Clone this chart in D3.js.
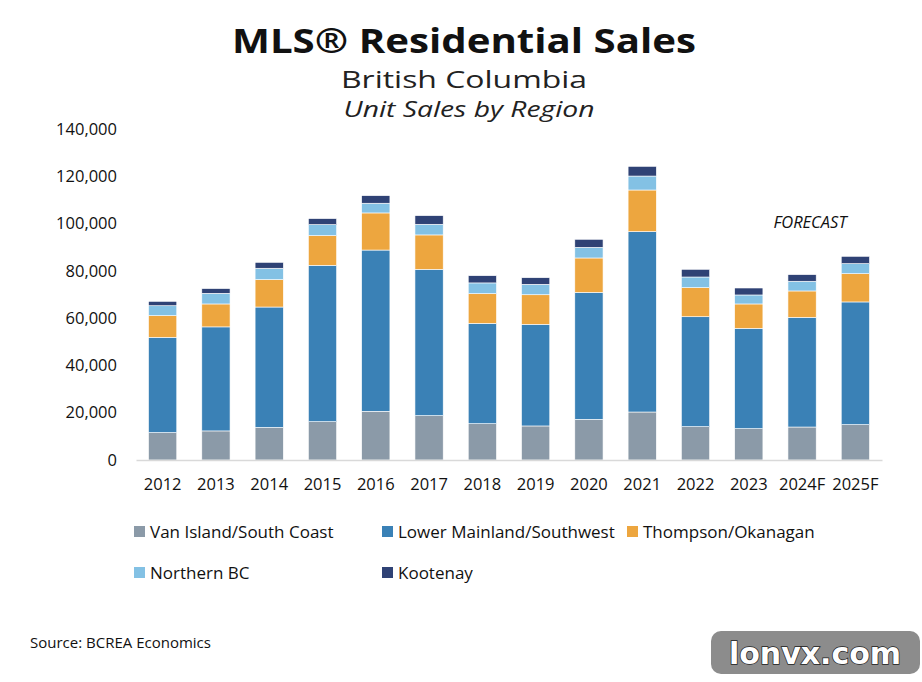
<!DOCTYPE html>
<html>
<head>
<meta charset="utf-8">
<script src="https://cdn.jsdelivr.net/npm/d3@7"></script>
<style>
  body { margin: 0; background: #fff; }
  svg { display: block; font-family: "Open Sans", sans-serif; }
</style>
</head>
<body>
<svg id="chart"></svg>
<script>
var years = ["2012","2013","2014","2015","2016","2017","2018","2019","2020","2021","2022","2023","2024F","2025F"];
var regions = ["Van Island/South Coast","Lower Mainland/Southwest","Thompson/Okanagan","Northern BC","Kootenay"];
var vanIsland   = [11600,12300,13800,16200,20600,18750,15350,14400,17200,20300,14100,13250,13950,14950];
var lowerMain   = [40300,44000,50900,66150,68200,61900,42450,43000,53700,76300,46500,42450,46400,51900];
var thompson    = [9150,9700,11600,12550,15700,14550,12550,12500,14550,17600,12300,10300,11150,11950];
var northernBC  = [4200,4500,4800,4650,4100,4500,4550,4400,4500,5900,4500,3800,4100,4250];
var kootenay    = [1850,2000,2500,2550,3200,3650,3050,2800,3400,4100,3250,2950,2800,3100];
var yTicks = [0,20000,40000,60000,80000,100000,120000,140000];
var colors = ["#8b9aa8","#3a81b6","#eda63f","#83c1e4","#2f4275"];

var width = 922, height = 682;
var svg = d3.select("#chart").attr("width", width).attr("height", height);

// build rows for the stack
var series = [vanIsland, lowerMain, thompson, northernBC, kootenay];
var rows = years.map(function(y, i){
    var r = {year: y};
    regions.forEach(function(k, j){ r[k] = series[j][i]; });
    return r;
});
var stacked = d3.stack().keys(regions)(rows);

var x = d3.scaleBand().domain(years).range([136, 882])
    .paddingInner(0.47).paddingOuter(0.235);
var y = d3.scaleLinear().domain([0, 140000]).range([460, 129]);

// titles (stretched to the wide geometric font of the original)
svg.append("text").attr("x", 464).attr("y", 53).attr("text-anchor","middle")
    .style("font-family","Open Sans, sans-serif").style("font-weight","bold")
    .style("font-size","34px").attr("fill","#111")
    .attr("textLength", 464).attr("lengthAdjust","spacingAndGlyphs")
    .text("MLS® Residential Sales");
svg.append("text").attr("x", 464).attr("y", 88).attr("text-anchor","middle")
    .style("font-family","Open Sans, sans-serif").style("font-size","24px")
    .attr("fill","#222").attr("textLength", 246).attr("lengthAdjust","spacingAndGlyphs")
    .text("British Columbia");
svg.append("text").attr("x", 469).attr("y", 117).attr("text-anchor","middle")
    .style("font-family","Open Sans, sans-serif").style("font-style","italic")
    .style("font-size","22px").attr("fill","#222")
    .attr("textLength", 251).attr("lengthAdjust","spacingAndGlyphs")
    .text("Unit Sales by Region");

// bars
svg.append("g").selectAll("g")
    .data(stacked)
    .enter().append("g")
    .attr("fill", function(d, i){ return colors[i]; })
    .selectAll("rect")
    .data(function(d){ return d; })
    .enter().append("rect")
    .attr("x", function(d){ return x(d.data.year); })
    .attr("width", x.bandwidth())
    .attr("y", function(d){ return y(d[1]); })
    .attr("height", function(d){ return y(d[0]) - y(d[1]); })
    .attr("stroke", "#ffffff")
    .attr("stroke-width", 0.6);

// x axis
var xAxis = svg.append("g").attr("transform","translate(0,460)")
    .call(d3.axisBottom(x).tickSize(0).tickPadding(18));
xAxis.select(".domain").attr("stroke","#d9d9d9").attr("stroke-width",1.5);
xAxis.selectAll("text").style("font-size","16.5px").style("font-family","Open Sans, sans-serif").attr("fill","#111");

// y axis
var yAxis = svg.append("g").attr("transform","translate(119,0)")
    .call(d3.axisLeft(y).tickValues(yTicks).tickSize(0).tickPadding(2)
        .tickFormat(d3.format(",")));
yAxis.select(".domain").remove();
yAxis.selectAll("text").style("font-size","16.5px").style("font-family","Open Sans, sans-serif").attr("fill","#111");

// forecast label
svg.append("text").attr("x", 810).attr("y", 228).attr("text-anchor","middle")
    .style("font-style","italic").style("font-size","16.5px").attr("fill","#111")
    .text("FORECAST");

// legend
var legPos = [[134,532],[382,532],[627,532],[134,573],[382,573]];
var leg = svg.append("g").selectAll("g").data(regions).enter().append("g")
    .attr("transform", function(d, i){ return "translate(" + legPos[i][0] + "," + legPos[i][1] + ")"; });
leg.append("rect").attr("x",0).attr("y",-6).attr("width",11).attr("height",11)
    .attr("fill", function(d, i){ return colors[i]; });
leg.append("text").attr("x",16).attr("y",0).attr("dy","0.35em")
    .style("font-size","17px").attr("fill","#111").text(function(d){ return d; });

// source
svg.append("text").attr("x", 30).attr("y", 648).style("font-size","15px")
    .attr("fill","#111").text("Source: BCREA Economics");

// watermark
svg.append("rect").attr("x", 711).attr("y", 631).attr("width", 209).attr("height", 43)
    .attr("rx", 10).attr("fill","#8c8c8c");
svg.append("text").attr("x", 815).attr("y", 664).attr("text-anchor","middle")
    .style("font-family","DejaVu Sans, sans-serif").style("font-weight","bold")
    .style("font-size","30px").attr("fill","#fff").attr("stroke","#222")
    .attr("stroke-width",1.5).attr("paint-order","stroke").text("lonvx.com");
</script>
</body>
</html>
